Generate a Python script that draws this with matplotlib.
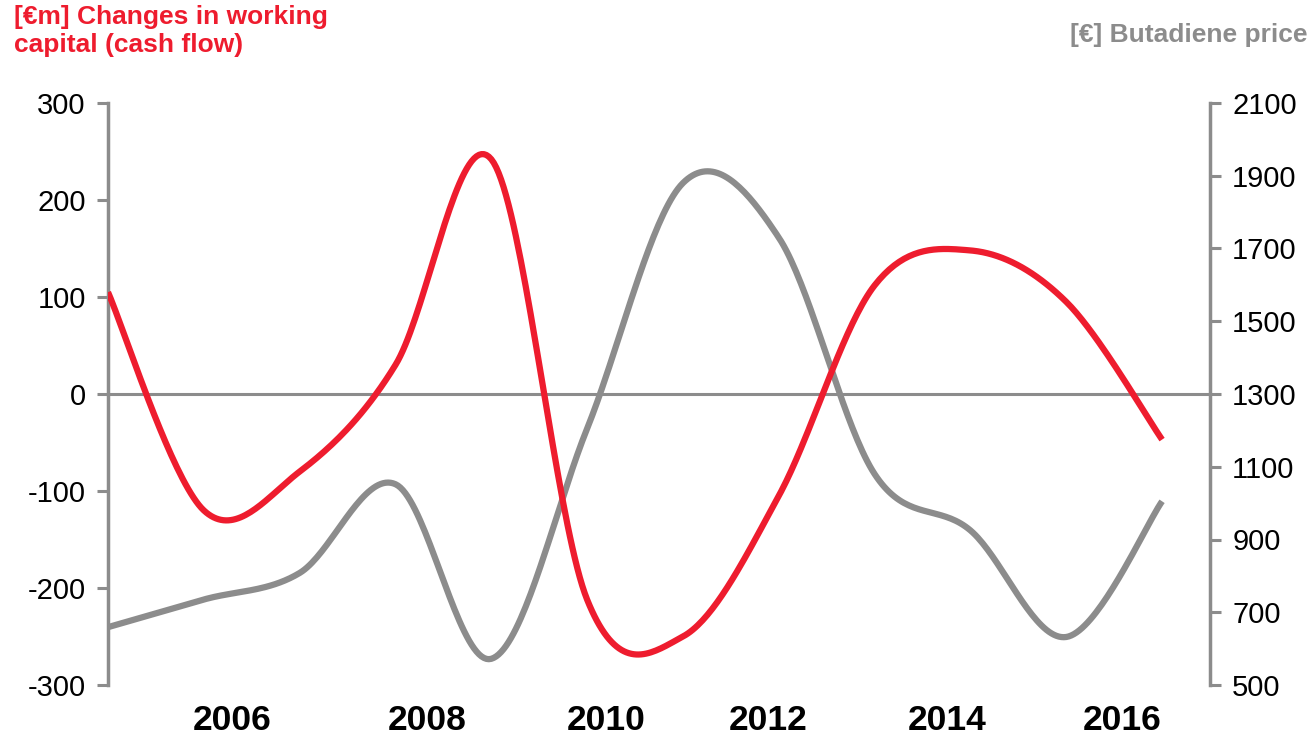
import matplotlib.pyplot as plt
import numpy as np

plt.rcParams['font.family'] = ['Liberation Sans', 'DejaVu Sans']
plt.rcParams['axes.unicode_minus'] = False

# data (one point per year, 2005-2016)
years = np.arange(2005, 2017)
working_capital = [105, -120, -80, 30, 242, -212, -250, -105, 112, 148, 95, -47]
butadiene = [659, 735, 808, 1052, 572, 1205, 1880, 1730, 1080, 925, 632, 1005]
tick_years = [2006, 2008, 2010, 2012, 2014, 2016]
# label centres are slightly offset from the data points in the original
tick_pos = [2006.30, 2008.33, 2010.20, 2011.89, 2013.76, 2015.58]

red = '#EE1C2E'
grey = '#8C8C8C'


def smooth(x, y, n=40):
    # Catmull-Rom style smoothing like office chart "smoothed lines"
    x = np.asarray(x, float)
    y = np.asarray(y, float)
    px = np.concatenate([[x[0]], x, [x[-1]]])
    py = np.concatenate([[y[0]], y, [y[-1]]])
    xs, ys = [], []
    t = np.linspace(0, 1, n)
    for i in range(1, len(px) - 2):
        p0, p1, p2, p3 = [np.array([px[j], py[j]]) for j in (i - 1, i, i + 1, i + 2)]
        c1 = p1 + (p2 - p0) / 6
        c2 = p2 - (p3 - p1) / 6
        b = ((1 - t) ** 3)[:, None] * p1 + (3 * (1 - t) ** 2 * t)[:, None] * c1 \
            + (3 * (1 - t) * t ** 2)[:, None] * c2 + (t ** 3)[:, None] * p2
        xs.append(b[:, 0])
        ys.append(b[:, 1])
    return np.concatenate(xs), np.concatenate(ys)


fig = plt.figure(figsize=(13.11, 7.39), dpi=100)
ax = fig.add_axes([108 / 1311, 1 - 685 / 739, (1210 - 108) / 1311, (685 - 103) / 739])
ax2 = ax.twinx()

ax.axhline(0, color=grey, lw=2.2, zorder=1)

sx, sy = smooth(years, butadiene)
ax2.plot(sx, sy, color=grey, lw=4.5, solid_capstyle='butt', zorder=2)
sx, sy = smooth(years, working_capital)
ax.plot(sx, sy, color=red, lw=4.5, solid_capstyle='butt', zorder=3)
ax.set_zorder(ax2.get_zorder() + 1)
ax.patch.set_visible(False)

ax.set_xlim(2005, 2016.5)
ax.set_ylim(-300, 300)
ax2.set_ylim(500, 2100)
ax.set_yticks(np.arange(-300, 301, 100))
ax2.set_yticks(np.arange(500, 2101, 200))
ax.set_xticks(tick_pos)
ax.set_xticklabels([str(y) for y in tick_years], fontsize=25.5, fontweight='bold')

for a in (ax, ax2):
    for s in ('top', 'bottom'):
        a.spines[s].set_visible(False)
    a.tick_params(axis='y', labelsize=21, length=8, width=2.2, color=grey, direction='out', pad=8)
    a.tick_params(axis='x', length=0, pad=14)
ax.spines['left'].set_color(grey)
ax.spines['left'].set_linewidth(2.5)
ax.spines['right'].set_visible(False)
ax2.spines['right'].set_color(grey)
ax2.spines['right'].set_linewidth(2.5)
ax2.spines['left'].set_visible(False)

fig.text(14 / 1311, 1 - 5 / 739, '[€m] Changes in working\ncapital (cash flow)', color=red,
         fontsize=19, fontweight='bold', ha='left', va='top', linespacing=1.2)
fig.text(1307 / 1311, 1 - 23 / 739, '[€] Butadiene price', color=grey,
         fontsize=19, fontweight='bold', ha='right', va='top')

fig.savefig('out.png', dpi=100)
